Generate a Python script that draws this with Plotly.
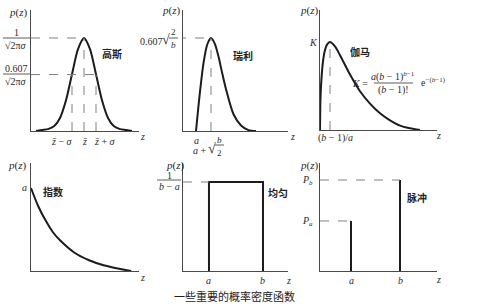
import plotly.graph_objects as go

W, H = 480, 304
SERIF = "Liberation Serif, Times New Roman, serif"
CJK = "Noto Sans CJK SC"
INK = "#1c1c1c"
AXC = "#4a4a4a"
DASH = "#808080"

# ---------------- data ----------------
# Gaussian, in units of sigma around the mean (z_bar = 0)
gauss_z = [-4, -3.5, -3, -2.5, -2, -1.5, -1, -0.5, 0, 0.5, 1, 1.5, 2, 2.5, 3, 3.5, 4]
gauss_p = [0.0, 0.01, 0.02, 0.05, 0.14, 0.33, 0.61, 0.88, 1.0, 0.88, 0.61, 0.33, 0.14, 0.05, 0.02, 0.01, 0.0]
gauss_marks = [-1, 0, 1]
gauss_levels = [1.0, 0.607]

# Rayleigh, u = (z - a) / sqrt(b/2)
ray_u = [0, 0.25, 0.5, 0.75, 1, 1.25, 1.5, 1.75, 2, 2.5, 3, 3.5, 4]
ray_p = [0.0, 0.40, 0.73, 0.93, 1.0, 0.94, 0.80, 0.62, 0.45, 0.18, 0.06, 0.01, 0.0]
ray_peak = 1.0

# Gamma, t = z / ((b-1)/a)
gam_t = [0, 0.05, 0.15, 0.3, 0.5, 0.7, 1, 1.5, 2, 3, 4, 5, 6, 7, 8, 9, 10]
gam_p = [0.0, 0.36, 0.59, 0.78, 0.91, 0.97, 1.0, 0.95, 0.85, 0.63, 0.44, 0.30, 0.19, 0.11, 0.05, 0.02, 0.0]
gam_peak = 1.0

# Exponential
exp_z = [0, 0.25, 0.5, 0.75, 1, 1.5, 2, 2.5, 3, 3.45]
exp_p = [1.0, 0.78, 0.61, 0.47, 0.37, 0.22, 0.13, 0.07, 0.03, 0.0]

# Uniform
uni_a, uni_b = 1.0, 2.0
uni_h = 1.0

# Impulse
imp_pos = [1.0, 2.0]      # a, b
imp_val = [0.55, 1.0]     # Pa, Pb

# ---------------- layout helpers ----------------
# panel boxes in pixels: (x_origin, x_end, y_top, y_origin)
boxes = {
    1: (31, 139, 10, 131),
    2: (183, 288, 10, 131),
    3: (320, 437, 10, 130),
    4: (31, 139, 163, 271),
    5: (183, 288, 163, 271),
    6: (320, 437, 163, 271),
}
ranges = {
    1: ([-4.417, 4.583], [0, 1.301]),
    2: ([-0.867, 6.133], [0, 1.301]),
    3: ([0, 11.7], [0, 1.364]),
    4: ([0, 3.72], [0, 1.301]),
    5: ([0.519, 2.463], [0, 1.2135]),
    6: ([0.367, 2.755], [0, 1.187]),
}

fig = go.Figure()
layout = dict(
    width=W, height=H, margin=dict(l=0, r=0, t=0, b=0),
    paper_bgcolor="white", plot_bgcolor="white", showlegend=False,
)
for i, (x0, x1, yt, yb) in boxes.items():
    xr, yr = ranges[i]
    sx = "" if i == 1 else str(i)
    layout["xaxis" + sx] = dict(
        domain=[x0 / W, x1 / W], range=xr, anchor="y" + sx,
        showline=True, linecolor=AXC, linewidth=1,
        showgrid=False, zeroline=False, showticklabels=False, ticks="",
    )
    layout["yaxis" + sx] = dict(
        domain=[1 - yb / H, 1 - yt / H], range=yr, anchor="x" + sx,
        showline=True, linecolor=AXC, linewidth=1,
        showgrid=False, zeroline=False, showticklabels=False, ticks="",
    )
fig.update_layout(**layout)


def ax(i):
    return ("x" if i == 1 else f"x{i}"), ("y" if i == 1 else f"y{i}")


def xpix(i, v):
    x0, x1, _, _ = boxes[i]
    r0, r1 = ranges[i][0]
    return x0 + (v - r0) / (r1 - r0) * (x1 - x0)


def curve(i, x, y, shape="spline"):
    xa, ya = ax(i)
    fig.add_trace(go.Scatter(
        x=x, y=y, mode="lines", xaxis=xa, yaxis=ya, hoverinfo="skip",
        line=dict(color=INK, width=2, shape=shape, smoothing=0.8 if shape == "spline" else None),
    ))


annots = []
shapes = []


def txt(s, x, y, size=10, font=SERIF, xanchor="center", color="#2a2a2a"):
    annots.append(dict(text=s, x=x / W, y=1 - y / H, xref="paper", yref="paper",
                       showarrow=False, xanchor=xanchor, yanchor="middle",
                       font=dict(family=font, size=size, color=color)))


def dtxt(i, s, xv, y, size=10):
    txt(s, xpix(i, xv), y, size=size)


def cjk(s, x, y, size=10):
    txt("<b>" + s + "</b>", x, y, size=size, font=CJK, color="#222")


def bar(x0, x1, y):
    shapes.append(dict(type="line", xref="paper", yref="paper",
                       x0=x0 / W, x1=x1 / W, y0=1 - y / H, y1=1 - y / H,
                       line=dict(color="#333", width=0.8)))


def dline(i, x0, y0, x1, y1):
    xa, ya = ax(i)
    shapes.append(dict(type="line", xref=xa, yref=ya, x0=x0, y0=y0, x1=x1, y1=y1,
                       line=dict(color=DASH, width=1, dash="dash")))


# ---------------- panel 1: Gaussian ----------------
curve(1, gauss_z, gauss_p)
x_left1 = ranges[1][0][0]
dline(1, x_left1, gauss_levels[0], 0, gauss_levels[0])
dline(1, x_left1, gauss_levels[1], gauss_marks[2], gauss_levels[1])
for m in gauss_marks:
    lvl = gauss_levels[0] if m == 0 else gauss_levels[1]
    dline(1, m, 0, m, lvl)
txt("<i>p</i>(<i>z</i>)", 18, 12, size=11)
txt("1", 16, 32, size=10)
bar(3, 30, 38)
txt("√2π<i>σ</i>", 16, 45, size=10)
txt("0.607", 16, 68, size=10)
bar(3, 30, 74)
txt("√2π<i>σ</i>", 16, 81, size=10)
dtxt(1, "<i>z̄</i> − <i>σ</i>", gauss_marks[0] - 0.85, 141)
dtxt(1, "<i>z̄</i>", gauss_marks[1], 141)
dtxt(1, "<i>z̄</i> + <i>σ</i>", gauss_marks[2] + 0.75, 141)
txt("<i>z</i>", 142, 137, size=10)
cjk("高斯", 112, 54)

# ---------------- panel 2: Rayleigh ----------------
curve(2, ray_u, ray_p)
dline(2, 1, 0, 1, ray_peak)
dline(2, ranges[2][0][0] - 0.4, ray_peak, 1, ray_peak)
txt("<i>p</i>(<i>z</i>)", 171, 10, size=11)
txt("0.607", 151, 41, size=10)
txt("√", 166, 40, size=14)
txt("2", 173, 32, size=9)
bar(169, 178, 38)
txt("<i>b</i>", 173, 45, size=9)
dtxt(2, "<i>a</i>", 0, 140)
txt("<i>a</i> +", 200, 150, size=10)
txt("√", 212, 149, size=14)
txt("<i>b</i>", 219, 140, size=9)
bar(215, 224, 145)
txt("2", 219, 153, size=9)
txt("<i>z</i>", 292, 136, size=10)
cjk("瑞利", 243, 55)

# ---------------- panel 3: Gamma ----------------
curve(3, gam_t, gam_p)
dline(3, 1, 0, 1, gam_peak)
txt("<i>p</i>(<i>z</i>)", 309, 10, size=11)
txt("<i>K</i>", 313, 42, size=10)
txt("(<i>b</i> − 1)/<i>a</i>", 335, 138, size=10)
txt("<i>z</i>", 438, 135, size=10)
cjk("伽马", 360, 52)
txt("<i>K</i> =", 360, 83, size=10)
txt("<i>a</i>(<i>b</i> − 1)<sup><i>b</i>−1</sup>", 393, 76, size=10)
bar(374, 413, 83)
txt("(<i>b</i> − 1)!", 393, 90, size=10)
txt("e<sup>−(<i>b</i>−1)</sup>", 433, 82, size=10)

# ---------------- panel 4: Exponential ----------------
curve(4, exp_z, exp_p)
txt("<i>p</i>(<i>z</i>)", 17, 165, size=11)
txt("<i>a</i>", 24, 187, size=10)
txt("<i>z</i>", 142, 277, size=10)
cjk("指数", 53, 191)

# ---------------- panel 5: Uniform ----------------
curve(5, [uni_a, uni_a, uni_b, uni_b], [0, uni_h, uni_h, 0], shape="linear")
dline(5, ranges[5][0][0], uni_h, uni_a, uni_h)
txt("<i>p</i>(<i>z</i>)", 175, 165, size=11)
txt("1", 169, 175, size=10)
bar(157, 181, 180)
txt("<i>b</i> − <i>a</i>", 169, 186, size=10)
dtxt(5, "<i>a</i>", uni_a, 280)
dtxt(5, "<i>b</i>", uni_b, 280)
txt("<i>z</i>", 288, 280, size=10)
cjk("均匀", 278, 193)

# ---------------- panel 6: Impulse ----------------
curve(6, [imp_pos[0], imp_pos[0], None, imp_pos[1], imp_pos[1]],
      [0, imp_val[0], None, 0, imp_val[1]], shape="linear")
for xp, v in zip(imp_pos, imp_val):
    dline(6, ranges[6][0][0], v, xp, v)
txt("<i>p</i>(<i>z</i>)", 309, 165, size=11)
txt("<i>P</i><sub><i>b</i></sub>", 307, 180, size=10)
txt("<i>P</i><sub><i>a</i></sub>", 307, 221, size=10)
dtxt(6, "<i>a</i>", imp_pos[0], 280)
dtxt(6, "<i>b</i>", imp_pos[1], 280)
txt("<i>z</i>", 438, 279, size=10)
cjk("脉冲", 417, 197)

# caption
txt("一些重要的概率密度函数", 234, 296, size=11, font=CJK, color="#222")

fig.update_layout(annotations=annots, shapes=shapes)
fig.write_html("out.html")
